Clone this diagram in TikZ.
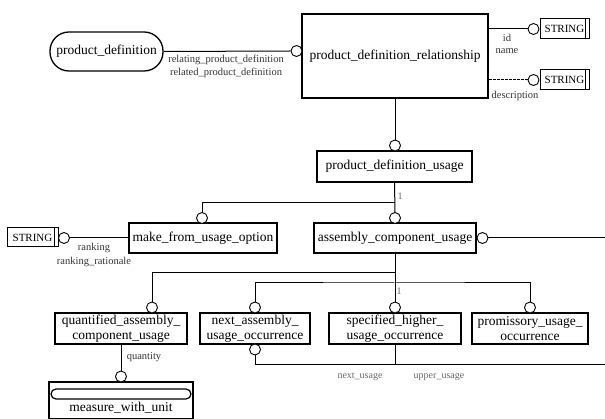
\documentclass[tikz,border=0pt]{standalone}
\usepackage{fontspec}
\setmainfont{Liberation Serif}
\begin{document}
\begin{tikzpicture}[x=1pt,y=-1pt,
  ent/.style={draw, line width=1.3pt, inner sep=0pt, align=center,
    font=\fontsize{13.5}{15}\selectfont},
  strbox/.style={draw, line width=1pt, inner sep=0pt, minimum width=49pt,
    minimum height=20pt, font=\fontsize{11}{12}\selectfont},
  circ/.style={circle, draw, fill=white, line width=0.9pt, minimum size=11pt, inner sep=0pt},
  conn/.style={line width=1pt},
  lbl/.style={inner sep=0pt, text=black!80, font=\fontsize{10.5}{12}\selectfont},
  lblg/.style={inner sep=0pt, text=black!60, font=\fontsize{10}{12}\selectfont}]
\useasboundingbox (0,0) rectangle (605,419);

% entities
\node[ent, rounded corners=19pt, minimum width=113pt, minimum height=39pt] (pd) at (106.5,51.5) {product\_definition};
\node[ent, minimum width=186pt, minimum height=84pt] (pdr) at (395,56) {product\_definition\_relationship};
\node[ent, minimum width=155pt, minimum height=31pt] (pdu) at (394.5,166.5) {product\_definition\_usage};
\node[ent, minimum width=148pt, minimum height=30pt] (mfuo) at (203,238) {make\_from\_usage\_option};
\node[ent, minimum width=162pt, minimum height=30pt] (acu) at (395,238) {assembly\_component\_usage};
\node[ent, minimum width=132pt, minimum height=31pt] (quac) at (121,328.5) {quantified\_assembly\_\\component\_usage};
\node[ent, minimum width=110pt, minimum height=31pt] (nauo) at (255,328.5) {next\_assembly\_\\usage\_occurrence};
\node[ent, minimum width=132pt, minimum height=31pt] (shuo) at (395,328.5) {specified\_higher\_\\usage\_occurrence};
\node[ent, minimum width=116pt, minimum height=31pt] (puo) at (530,328.5) {promissory\_usage\_\\occurrence};
\node[ent, minimum width=144pt, minimum height=37pt] (mwu) at (121,400.5) {};
\node[inner sep=0pt, font=\fontsize{13.5}{15}\selectfont] (mwut) at (121,408) {measure\_with\_unit};
\draw[line width=1.2pt, rounded corners=5pt] (51,389) rectangle (191,399);

% STRING boxes
\node[strbox] (s1) at (564.5,29) {STRING\hspace{4pt}};
\draw[line width=1pt] ([xshift=-4pt]s1.north east) -- ([xshift=-4pt]s1.south east);
\node[strbox] (s2) at (564.5,80) {STRING\hspace{4pt}};
\draw[line width=1pt] ([xshift=-4pt]s2.north east) -- ([xshift=-4pt]s2.south east);
\node[strbox, minimum width=51pt, minimum height=19pt] (s3) at (32.5,237.5) {STRING\hspace{4pt}};
\draw[line width=1pt] ([xshift=-4pt]s3.north east) -- ([xshift=-4pt]s3.south east);

% circles
\node[circ] (cpd) at (296.5,51) {};
\node[circ] (cid) at (533.5,29) {};
\node[circ] (cdesc) at (533.5,80) {};
\node[circ] (cpdu) at (395,145.5) {};
\node[circ] (cmfuo) at (202,218) {};
\node[circ] (cacu) at (395,218) {};
\node[circ] (cacur) at (482.5,238) {};
\node[circ] (cs3) at (64,238) {};
\node[circ] (cquac) at (152,307.5) {};
\node[circ] (cnauo) at (255,307.5) {};
\node[circ] (cshuo) at (395,307.5) {};
\node[circ] (cpuo) at (530,307.5) {};
\node[circ] (cnb) at (255,349.5) {};
\node[circ] (cmwu) at (121,376.5) {};

% coordinates
\coordinate (j1) at (395,203);
\coordinate (j2) at (395,273);
\coordinate (j3) at (395,283);
\coordinate (j4) at (395,365);
\coordinate (r1) at (605,238);
\coordinate (r2) at (605,365);

% connectors
\draw[conn] (pd.east) -- (cpd.west);
\draw[conn] (pdr.east |- cid) -- (cid.west);
\draw[conn, dash pattern=on 3pt off 1pt] (pdr.east |- cdesc) -- (cdesc.west);
\draw[conn] (pdr.south) -- (cpdu.north);
\draw[conn] (pdu.south) -- (cacu.north);
\draw[conn] (j1) -| (cmfuo.north);
\draw[conn] (cs3.east) -- (mfuo.west);
\draw[conn] (cacur.east) -- (r1);
\draw[conn] (acu.south) -- (cshuo.north);
\draw[conn] (j2) -| (cquac.north);
\draw[conn] (cnauo.north) |- (j3) -| (cpuo.north);
\draw[conn] (quac.south) -- (cmwu.north);
\draw[conn] (cnb.south) |- (r2);
\draw[conn] (shuo.south) -- (j4);

% labels
\node[lbl] (l1) at (226,60) {relating\_product\_definition};
\node[lbl] (l2) at (226,72.5) {related\_product\_definition};
\node[lbl] (l3) at (507,37.5) {id};
\node[lbl] (l4) at (507,51) {name};
\node[lbl] (l5) at (515,96) {description};
\node[lblg] (l6) at (400,196) {1};
\node[lbl] (l7) at (94,247.5) {ranking};
\node[lbl] (l8) at (94,261.5) {ranking\_rationale};
\node[lblg] (l9) at (399,291) {1};
\node[lbl] (l10) at (144,357) {quantity};
\node[lblg] (l11) at (360,377) {next\_usage};
\node[lblg] (l12) at (439,377) {upper\_usage};
\end{tikzpicture}
\end{document}
